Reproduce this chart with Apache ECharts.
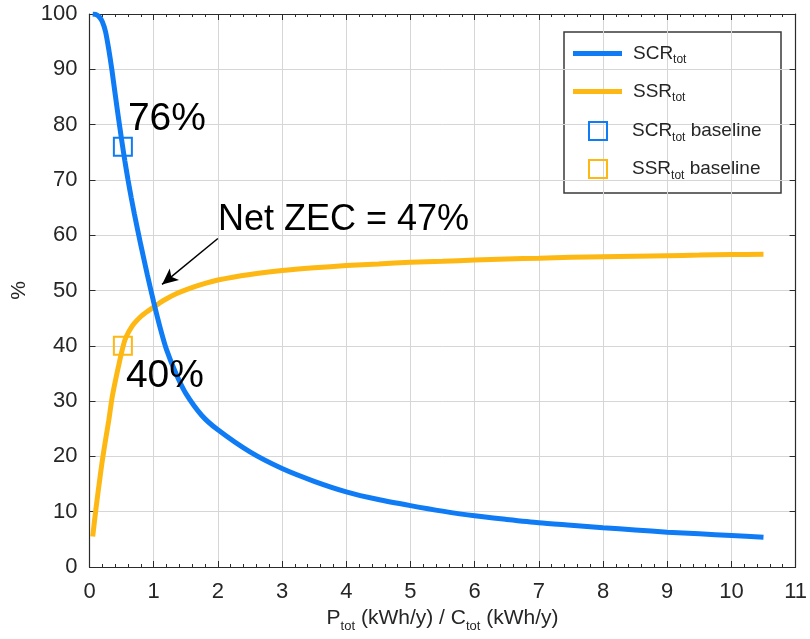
<!DOCTYPE html>
<html>
<head>
<meta charset="utf-8">
<script src="https://cdn.jsdelivr.net/npm/echarts@6/dist/echarts.min.js"></script>
<style>
  html, body { margin: 0; padding: 0; background: #fff; }
  #chart { width: 810px; height: 639px; }
</style>
</head>
<body>
<div id="chart"></div>
<script>
// Ratio of annual production to annual consumption
const ratio = [0.05, 0.1, 0.15, 0.2, 0.25, 0.3, 0.35, 0.4, 0.45, 0.5, 0.55, 0.6, 0.65, 0.7, 0.8, 0.9,
  1.0, 1.1, 1.2, 1.35, 1.5, 1.75, 2, 2.5, 3, 3.5, 4, 4.5, 5, 5.5, 6, 6.5, 7, 7.5, 8, 8.5, 9, 9.5, 10, 10.5];
// Self-consumption ratio (%)
const scrTot = [100, 99.9, 99.5, 98.6, 96.8, 93.6, 89.8, 85.5, 81.3, 77.3, 73.5, 70, 66.8, 63.8, 58.2, 52.9,
  47.9, 43.3, 39.3, 34.9, 31.4, 27.4, 24.8, 20.8, 17.8, 15.5, 13.6, 12.2, 11.1, 10.1, 9.25, 8.6, 8.0, 7.55, 7.1, 6.7, 6.3, 6.0, 5.7, 5.4];
// Self-sufficiency ratio (%)
const ssrTot = [5.5, 10.5, 15, 19.3, 23, 26.5, 30.5, 33.5, 36.2, 38.8, 41, 42.3, 43.3, 44.1, 45.3, 46.2,
  47, 47.8, 48.5, 49.4, 50.1, 51.1, 51.9, 52.9, 53.6, 54.1, 54.5, 54.8, 55.1, 55.3, 55.5, 55.7, 55.85, 56.0, 56.1, 56.2, 56.3, 56.4, 56.5, 56.55];
// Baseline operating point
const baselineRatio = 0.52;
const scrBaseline = 76;
const ssrBaseline = 40;
// Net zero-energy community share at the crossing point
const netZec = 47;
// Annotation arrow (tail, head) in data units
const arrowTail = [2.0, 59.4];
const arrowHead = [1.13, 51.1];

const xTicks = [0, 1, 2, 3, 4, 5, 6, 7, 8, 9, 10, 11];
const yTicks = [0, 10, 20, 30, 40, 50, 60, 70, 80, 90, 100];

const BLUE = '#0f7cf5';
const YELLOW = '#fdb813';
const FONT = '"Liberation Sans", Arial, Helvetica, sans-serif';
const AXIS = '#2b2b2b';
const TXT = '#262626';

const subRich = {
  n: { fontSize: 19, fontFamily: FONT, color: TXT },
  s: { fontSize: 12, fontFamily: FONT, color: TXT, verticalAlign: 'bottom', padding: [0, 0, -3, 0] }
};
function legendName(name) {
  const parts = name.split(' ');
  let out = '{n|' + parts[0] + '}{s|tot}';
  if (parts.length > 1) out += '{n| ' + parts.slice(1).join(' ') + '}';
  return out;
}

const chart = echarts.init(document.getElementById('chart'), null, { renderer: 'canvas' });

const legendCommon = {
  orient: 'vertical', padding: 0, itemGap: 0, selectedMode: false,
  formatter: legendName,
  textStyle: { rich: subRich, padding: [0, 0, 0, 6] }
};

const bigLabel = {
  show: true, position: 'right', distance: 0,
  formatter: p => p.value[1] + '%',
  fontSize: 39, fontFamily: FONT, color: '#000', textBorderWidth: 0
};

chart.setOption({
  animation: false,
  backgroundColor: '#ffffff',
  grid: { left: 89.5, right: 11, top: 14, bottom: 72, containLabel: false },
  xAxis: [{
    type: 'value', min: xTicks[0], max: xTicks[xTicks.length - 1], interval: 1,
    name: 'P{s|tot} (kWh/y) / C{s|tot} (kWh/y)', nameLocation: 'middle', nameGap: 40,
    nameTextStyle: { fontSize: 21, fontFamily: FONT, color: TXT,
      rich: { s: { fontSize: 13, fontFamily: FONT, color: TXT, verticalAlign: 'bottom', padding: [0, 0, -4, 0] } } },
    axisLine: { show: true, onZero: false, lineStyle: { color: AXIS, width: 1.2 } },
    axisTick: { show: true, inside: true, length: 6, lineStyle: { color: AXIS } },
    minorTick: { show: true, splitNumber: 5, length: 3, lineStyle: { color: AXIS } },
    axisLabel: { fontSize: 22, fontFamily: FONT, color: TXT, margin: 14 },
    splitLine: { show: true, lineStyle: { color: '#d6d6d6', width: 1 } }
  }, {
    type: 'value', position: 'top', min: xTicks[0], max: xTicks[xTicks.length - 1], interval: 1,
    axisLine: { show: true, onZero: false, lineStyle: { color: AXIS, width: 1.2 } },
    axisTick: { show: true, inside: true, length: 6, lineStyle: { color: AXIS } },
    minorTick: { show: true, splitNumber: 5, length: 3, lineStyle: { color: AXIS } },
    axisLabel: { show: false }, splitLine: { show: false }
  }],
  yAxis: [{
    type: 'value', min: yTicks[0], max: yTicks[yTicks.length - 1], interval: 10,
    name: '%', nameLocation: 'middle', nameGap: 52, nameRotate: 90,
    nameTextStyle: { fontSize: 21, fontFamily: FONT, color: TXT },
    axisLine: { show: true, onZero: false, lineStyle: { color: AXIS, width: 1.2 } },
    axisTick: { show: true, inside: true, length: 6, lineStyle: { color: AXIS } },
    axisLabel: { fontSize: 22, fontFamily: FONT, color: TXT, margin: 12 },
    splitLine: { show: true, lineStyle: { color: '#d6d6d6', width: 1 } }
  }, {
    type: 'value', position: 'right', min: yTicks[0], max: yTicks[yTicks.length - 1], interval: 10,
    axisLine: { show: true, onZero: false, lineStyle: { color: AXIS, width: 1.2 } },
    axisTick: { show: true, inside: true, length: 6, lineStyle: { color: AXIS } },
    axisLabel: { show: false }, splitLine: { show: false }
  }],
  legend: [
    Object.assign({}, legendCommon, { data: [{ name: 'SCR', icon: 'rect' }], left: 573, top: 44, itemWidth: 49, itemHeight: 5 }),
    Object.assign({}, legendCommon, { data: [{ name: 'SSR', icon: 'rect' }], left: 573, top: 82, itemWidth: 49, itemHeight: 5 }),
    Object.assign({}, legendCommon, { data: [{ name: 'SCR baseline', icon: 'rect' }], left: 588, top: 121, itemWidth: 18, itemHeight: 18,
      textStyle: { rich: subRich, padding: [0, 0, 0, 20] } }),
    Object.assign({}, legendCommon, { data: [{ name: 'SSR baseline', icon: 'rect' }], left: 588, top: 159, itemWidth: 18, itemHeight: 18,
      textStyle: { rich: subRich, padding: [0, 0, 0, 20] } })
  ],
  graphic: [{
    type: 'rect', z: -1,
    shape: { x: 564, y: 32, width: 217, height: 161 },
    style: { fill: '#ffffff', stroke: '#3a3a3a', lineWidth: 1.5 }
  }],
  series: [{
    name: 'SCR', type: 'line', xAxisIndex: 0, yAxisIndex: 0,
    data: ratio.map((x, i) => [x, scrTot[i]]),
    showSymbol: false, smooth: 0.25,
    lineStyle: { color: BLUE, width: 5 }, itemStyle: { color: BLUE }, z: 3,
    markLine: {
      silent: true, symbol: ['none', 'arrow'], symbolSize: [11, 16],
      lineStyle: { color: '#000', width: 1.5, type: 'solid' },
      label: { show: false },
      data: [[{ coord: arrowTail }, { coord: arrowHead }]]
    },
    markPoint: {
      silent: true, symbol: 'circle', symbolSize: 0,
      data: [{ coord: arrowTail, value: netZec }],
      label: {
        show: true, position: 'right', distance: 0, offset: [0, -18],
        formatter: p => 'Net ZEC = ' + p.value + '%',
        fontSize: 36, fontFamily: FONT, color: '#000'
      }
    }
  }, {
    name: 'SSR', type: 'line', xAxisIndex: 0, yAxisIndex: 0,
    data: ratio.map((x, i) => [x, ssrTot[i]]),
    showSymbol: false, smooth: 0.25,
    lineStyle: { color: YELLOW, width: 5 }, itemStyle: { color: YELLOW }, z: 2
  }, {
    name: 'SCR baseline', type: 'scatter', symbol: 'rect', symbolSize: 18,
    data: [[baselineRatio, scrBaseline]],
    itemStyle: { color: 'rgba(255,255,255,0)', borderColor: BLUE, borderWidth: 2, opacity: 1 }, z: 4,
    label: Object.assign({}, bigLabel, { offset: [-5, -27] })
  }, {
    name: 'SSR baseline', type: 'scatter', symbol: 'rect', symbolSize: 18,
    data: [[baselineRatio, ssrBaseline]],
    itemStyle: { color: 'rgba(255,255,255,0)', borderColor: YELLOW, borderWidth: 2, opacity: 1 }, z: 4,
    label: Object.assign({}, bigLabel, { offset: [-7, 30] })
  }]
});
</script>
</body>
</html>
